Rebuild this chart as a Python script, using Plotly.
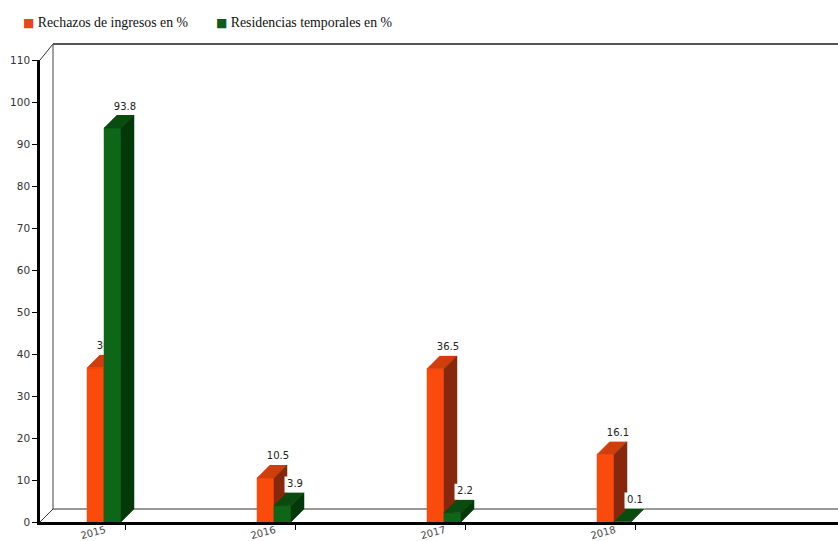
import plotly.graph_objects as go

# ---- data ----
years = ["2015", "2016", "2017", "2018"]
rechazos = [36.7, 10.5, 36.5, 16.1]
residencias = [93.8, 3.9, 2.2, 0.1]
series_names = ["Rechazos de ingresos en %", "Residencias temporales en %"]
y_ticks = list(range(0, 111, 10))

# ---- geometry (pixel scale of the plot area) ----
W, H = 838, 541
L, T, B = 40, 60, 19
plot_w = W - L
plot_h = H - T - B
px_per_cat = 170.0
y_max = 110.0
px_per_unit = plot_h / y_max
x0 = -0.5
x1 = x0 + plot_w / px_per_cat

depth_px = 13
dx = depth_px / px_per_cat
dy = depth_px / px_per_unit
bar_w = 17 / px_per_cat
offsets = [-38 / px_per_cat, -21 / px_per_cat]

colors = [
    dict(front="#FA4A0C", top="#D23D0C", side="#87280C", legend="#E2481A"),
    dict(front="#0E6618", top="#0A4C10", side="#033808", legend="#0F5A1C"),
]

fig = go.Figure()

def poly_trace(xs, ys, color):
    return go.Scatter(x=xs, y=ys, mode="lines", fill="toself", fillcolor=color,
                      line=dict(width=0.5, color=color), hoverinfo="skip",
                      showlegend=False)

for s, vals in enumerate([rechazos, residencias]):
    off = offsets[s]
    c = colors[s]
    fx, fy, tx, ty, sx, sy = [], [], [], [], [], []
    bx, by, lx, ly, lt = [], [], [], [], []
    for i, v in enumerate(vals):
        a = i + off
        b = a + bar_w
        fx += [a, b, b, a, a, None]; fy += [0, 0, v, v, 0, None]
        tx += [a, b, b + dx, a + dx, a, None]; ty += [v, v, v + dy, v + dy, v, None]
        sx += [b, b + dx, b + dx, b, b, None]; sy += [0, dy, v + dy, v, 0, None]
        label = f"{v:.1f}"
        cx = b + 4 / px_per_cat
        cy = v + dy + 8 / px_per_unit
        hw = (len(label) * 6.0 + 3) / 2 / px_per_cat
        hh = 8 / px_per_unit
        bx += [cx - hw, cx + hw, cx + hw, cx - hw, cx - hw, None]
        by += [cy - hh, cy - hh, cy + hh, cy + hh, cy - hh, None]
        lx.append(cx); ly.append(cy); lt.append(label)
    fig.add_trace(poly_trace(fx, fy, c["front"]))
    fig.add_trace(poly_trace(tx, ty, c["top"]))
    fig.add_trace(poly_trace(sx, sy, c["side"]))
    fig.add_trace(go.Scatter(x=bx, y=by, mode="lines", fill="toself", fillcolor="white",
                             line=dict(width=0), hoverinfo="skip", showlegend=False))
    fig.add_trace(go.Scatter(x=lx, y=ly, mode="text", text=lt, textposition="middle center",
                             textfont=dict(family="DejaVu Sans", size=10, color="#222"),
                             hoverinfo="skip", showlegend=False, cliponaxis=False))

# legend entries (square glyph carried in the entry text), one legend each
legend_keys = ["legend", "legend2"]
for s, name in enumerate(series_names):
    fig.add_trace(go.Scatter(
        x=[None], y=[None], mode="markers", legend=legend_keys[s],
        name=f"<span style='color:{colors[s]['legend']};font-family:DejaVu Sans;font-size:12px'>■</span> {name}",
        marker=dict(symbol="square", size=9, color="rgba(0,0,0,0)")))

# back wall frame (paper coordinates)
dxp = depth_px / plot_w
dyp = depth_px / plot_h
top_p = 1 + 16 / plot_h
shapes = [
    dict(type="line", xref="paper", yref="paper", x0=0, y0=0, x1=dxp, y1=dyp,
         line=dict(color="#333", width=1), layer="below"),
    dict(type="line", xref="paper", yref="paper", x0=0, y0=1, x1=dxp, y1=top_p,
         line=dict(color="#333", width=1), layer="below"),
    dict(type="line", xref="paper", yref="paper", x0=dxp, y0=dyp, x1=dxp, y1=top_p,
         line=dict(color="#444", width=1), layer="below"),
    dict(type="line", xref="paper", yref="paper", x0=dxp, y0=dyp, x1=1.01, y1=dyp,
         line=dict(color="#333", width=1), layer="below"),
    dict(type="line", xref="paper", yref="paper", x0=dxp, y0=top_p, x1=1.01, y1=top_p,
         line=dict(color="#555", width=2), layer="below"),
]

legend_font = dict(family="Liberation Serif", size=13.8, color="#111")
legend_y = 1 + (T - 22) / plot_h

fig.update_layout(
    width=W, height=H,
    margin=dict(l=L, r=0, t=T, b=B, pad=0, autoexpand=False),
    paper_bgcolor="white", plot_bgcolor="white",
    shapes=shapes,
    showlegend=True,
    legend=dict(orientation="h", x=-57 / plot_w, xanchor="left",
                y=legend_y, yanchor="middle", font=legend_font,
                bgcolor="rgba(0,0,0,0)"),
    legend2=dict(orientation="h", x=(176 - L) / plot_w, xanchor="left",
                 y=legend_y, yanchor="middle", font=legend_font,
                 bgcolor="rgba(0,0,0,0)"),
    xaxis=dict(range=[x0, x1], tickmode="array", tickvals=list(range(len(years))),
               ticktext=years, tickangle=-15, ticks="outside", ticklen=5, tickwidth=1,
               tickcolor="black", showline=True, linecolor="black", linewidth=2.5,
               showgrid=False, zeroline=False, ticklabelshift=-20, ticklabelstandoff=-9,
               tickfont=dict(family="DejaVu Sans", size=10, color="#444"),
               automargin=False, fixedrange=True),
    yaxis=dict(range=[0, y_max], tickmode="array", tickvals=y_ticks,
               ticks="outside", ticklen=5, tickwidth=1, tickcolor="black",
               showline=True, linecolor="black", linewidth=2.5,
               showgrid=False, zeroline=False,
               tickfont=dict(family="DejaVu Sans", size=10.5, color="#333"),
               automargin=False, fixedrange=True),
)

fig.write_html("out.html")
